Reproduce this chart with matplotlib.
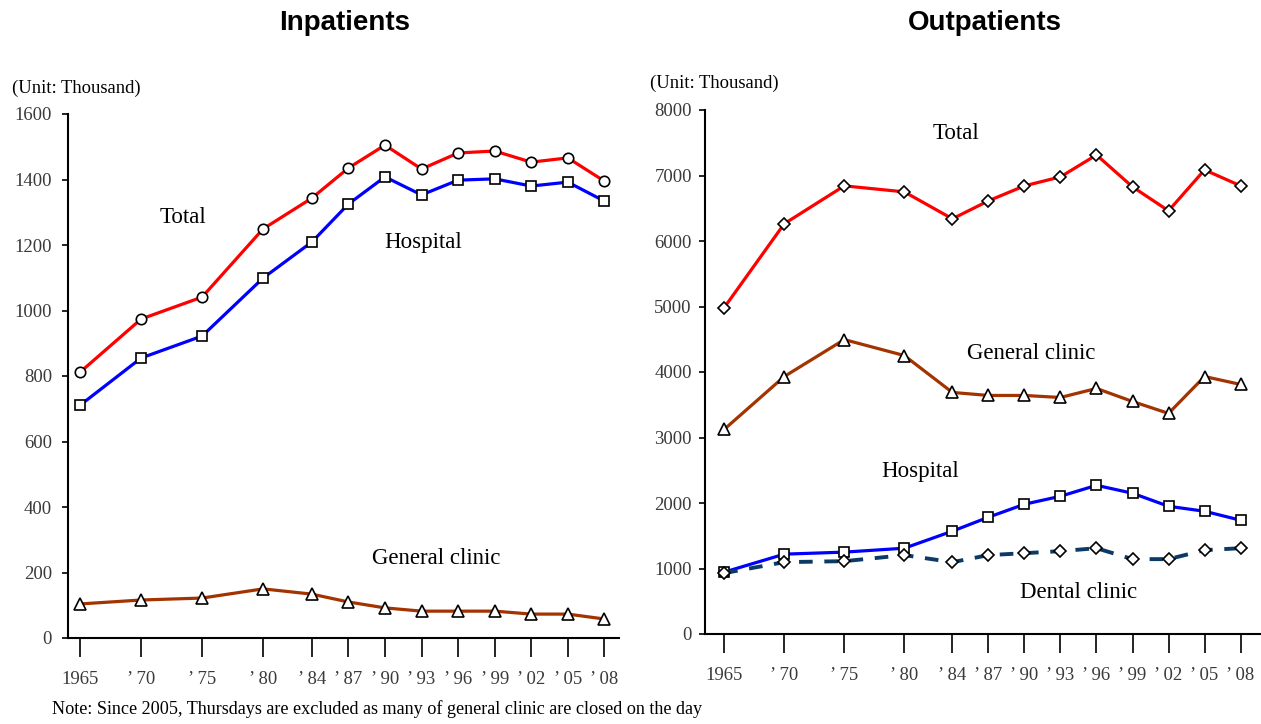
import matplotlib
matplotlib.use("Agg")
import matplotlib.pyplot as plt

# years and tick labels (same for both panels)
years = [1965, 1970, 1975, 1980, 1984, 1987, 1990, 1993, 1996, 1999, 2002, 2005, 2008]
year_labels = ["1965", "\u2019 70", "\u2019 75", "\u2019 80", "\u2019 84", "\u2019 87", "\u2019 90",
               "\u2019 93", "\u2019 96", "\u2019 99", "\u2019 02", "\u2019 05", "\u2019 08"]

# inpatients (thousand)
in_total = [812, 974, 1041, 1249, 1343, 1435, 1505, 1432, 1481, 1487, 1453, 1466, 1395]
in_hospital = [711, 855, 922, 1099, 1209, 1325, 1408, 1353, 1398, 1402, 1380, 1392, 1334]
in_general = [104, 116, 122, 150, 134, 110, 92, 82, 82, 82, 73, 73, 58]

# outpatients (thousand)
out_total = [4983, 6263, 6842, 6750, 6339, 6613, 6842, 6979, 7314, 6827, 6461, 7086, 6842]
out_general = [3124, 3931, 4495, 4251, 3688, 3642, 3642, 3611, 3749, 3550, 3368, 3931, 3810]
out_hospital = [945, 1219, 1250, 1310, 1570, 1783, 1981, 2103, 2270, 2149, 1950, 1874, 1737]
out_dental = [930, 1097, 1112, 1204, 1097, 1204, 1234, 1265, 1310, 1143, 1143, 1280, 1310]

RED = "#ff0000"
BLUE = "#0000ff"
BROWN = "#a33300"
NAVY = "#0b3a66"
SERIF = "Liberation Serif"

fig = plt.figure(figsize=(12.61, 7.24), dpi=100)
ax1 = fig.add_axes([68 / 1261, 1 - 638 / 724, (619 - 68) / 1261, (638 - 114) / 724])
ax2 = fig.add_axes([705 / 1261, 1 - 634 / 724, (1261 - 705) / 1261, (634 - 110) / 724])


def style_axis(ax, xlim, ylim, yticks, ypad):
    ax.set_xlim(*xlim)
    ax.set_ylim(*ylim)
    ax.set_yticks(yticks)
    ax.set_xticks(years)
    ax.set_xticklabels(year_labels)
    for s in ["top", "right"]:
        ax.spines[s].set_visible(False)
    for s in ["left", "bottom"]:
        ax.spines[s].set_linewidth(1.5)
    ax.tick_params(axis="y", direction="out", length=4, width=1.2, pad=ypad,
                   labelsize=13.5, labelcolor="#3a3a3a")
    ax.tick_params(axis="x", direction="out", length=14, width=1.2, pad=10,
                   labelsize=13.5, labelcolor="#3a3a3a")
    for lab in ax.get_xticklabels() + ax.get_yticklabels():
        lab.set_family(SERIF)


mk = dict(markerfacecolor="white", markeredgecolor="black", markeredgewidth=1.2, clip_on=False)

# left panel
ax1.plot(years, in_total, color=RED, lw=2.3, marker="o", ms=7.5, **mk)
ax1.plot(years, in_hospital, color=BLUE, lw=2.3, marker="s", ms=7.5, **mk)
ax1.plot(years, in_general, color=BROWN, lw=2.3, marker="^", ms=8.5, **mk)
style_axis(ax1, (1964.0, 2009.2), (0, 1600), range(0, 1601, 200), 7.5)

ax1.text(1973.4, 1285, "Total", family=SERIF, fontsize=16.5, ha="center", va="center")
ax1.text(1993.1, 1209, "Hospital", family=SERIF, fontsize=16.5, ha="center", va="center")
ax1.text(1994.2, 244, "General clinic", family=SERIF, fontsize=16.5, ha="center", va="center")

# right panel
ax2.plot(years, out_total, color=RED, lw=2.3, marker="D", ms=6.5, **mk)
ax2.plot(years, out_general, color=BROWN, lw=2.3, marker="^", ms=8.5, **mk)
ax2.plot(years, out_hospital, color=BLUE, lw=2.3, marker="s", ms=7.5, **mk)
ax2.plot(years, out_dental, color=NAVY, lw=2.8, ls=(0, (3.5, 3)), marker="D", ms=6.5, **mk)
style_axis(ax2, (1963.4, 2009.7), (0, 8000), range(0, 8001, 1000), 5.5)

ax2.text(1984.3, 7634, "Total", family=SERIF, fontsize=16.5, ha="center", va="center")
ax2.text(1990.6, 4282, "General clinic", family=SERIF, fontsize=16.5, ha="center", va="center")
ax2.text(1981.3, 2484, "Hospital", family=SERIF, fontsize=16.5, ha="center", va="center")
ax2.text(1994.5, 640, "Dental clinic", family=SERIF, fontsize=16.5, ha="center", va="center")

# titles and notes
fig.text(345 / 1261, 1 - 23 / 724, "Inpatients", family="Liberation Sans", fontweight="bold",
         fontsize=20, ha="center", va="center")
fig.text(985 / 1261, 1 - 23 / 724, "Outpatients", family="Liberation Sans", fontweight="bold",
         fontsize=20, ha="center", va="center")
fig.text(12 / 1261, 1 - 88 / 724, "(Unit: Thousand)", family=SERIF, fontsize=13.4, va="center")
fig.text(650 / 1261, 1 - 83 / 724, "(Unit: Thousand)", family=SERIF, fontsize=13.4, va="center")
fig.text(52 / 1261, 1 - 709 / 724,
         "Note: Since 2005, Thursdays are excluded as many of general clinic are closed on the day",
         family=SERIF, fontsize=13.1, va="center")

fig.savefig("out.png", dpi=100)
